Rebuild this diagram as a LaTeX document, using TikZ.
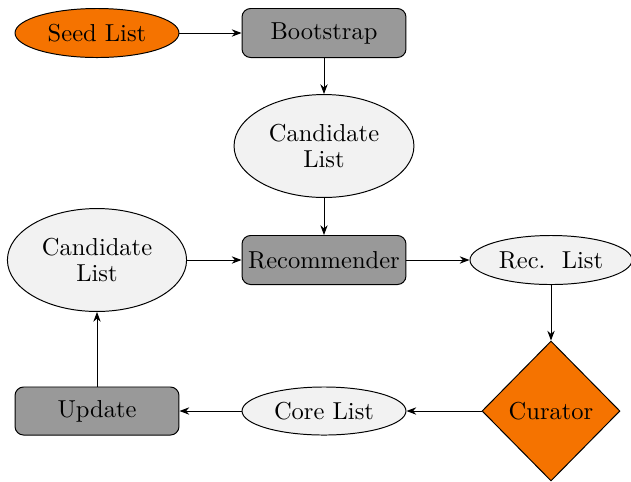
\documentclass[tikz,border=0pt]{standalone}
\usetikzlibrary{shapes.geometric,arrows.meta}
\definecolor{orng}{RGB}{245,115,0}
\definecolor{boxgray}{RGB}{153,153,153}
\definecolor{lightfill}{RGB}{242,242,242}
\begin{document}
\begin{tikzpicture}[x=0.408pt,y=-0.408pt,
  procbox/.style={draw,rectangle,rounded corners=3.5pt,fill=boxgray,minimum width=66.9pt,minimum height=20pt,inner sep=0pt},
  listell/.style={draw,ellipse,fill=lightfill,inner sep=0pt},
  orngell/.style={draw,ellipse,fill=orng,inner sep=0pt,minimum width=66.9pt,minimum height=20pt},
  dia/.style={draw,diamond,fill=orng,inner sep=0pt,minimum width=56.3pt,minimum height=57.1pt},
  conn/.style={-{Stealth[length=4pt,width=3pt]}}]
\useasboundingbox (0,0) rectangle (631,481);
\node[orngell] (seed) at (97,33) {Seed List};
\node[procbox] (boot) at (324,33) {Bootstrap};
\node[listell,minimum width=73.4pt,minimum height=42pt,align=center] (cand1) at (324,146) {Candidate\\[-1pt]List};
\node[procbox] (rec) at (324,260) {Recommender};
\node[listell,minimum width=73.1pt,minimum height=42pt,align=center] (cand2) at (97,260) {Candidate\\[-1pt]List};
\node[listell,minimum width=66.1pt,minimum height=20pt] (reclist) at (551,260) {Rec.\ \ List};
\node[dia] (cur) at (551,411) {Curator};
\node[listell,minimum width=66.9pt,minimum height=19.6pt] (core) at (324,411) {Core List};
\node[procbox,minimum height=19.6pt] (upd) at (97,411) {Update};
\draw[conn] (seed) -- (boot);
\draw[conn] (boot) -- (cand1);
\draw[conn] (cand1) -- (rec);
\draw[conn] (cand2) -- (rec);
\draw[conn] (rec) -- (reclist);
\draw[conn] (reclist) -- (cur);
\draw[conn] (cur) -- (core);
\draw[conn] (core) -- (upd);
\draw[conn] (upd) -- (cand2);
\end{tikzpicture}
\end{document}
